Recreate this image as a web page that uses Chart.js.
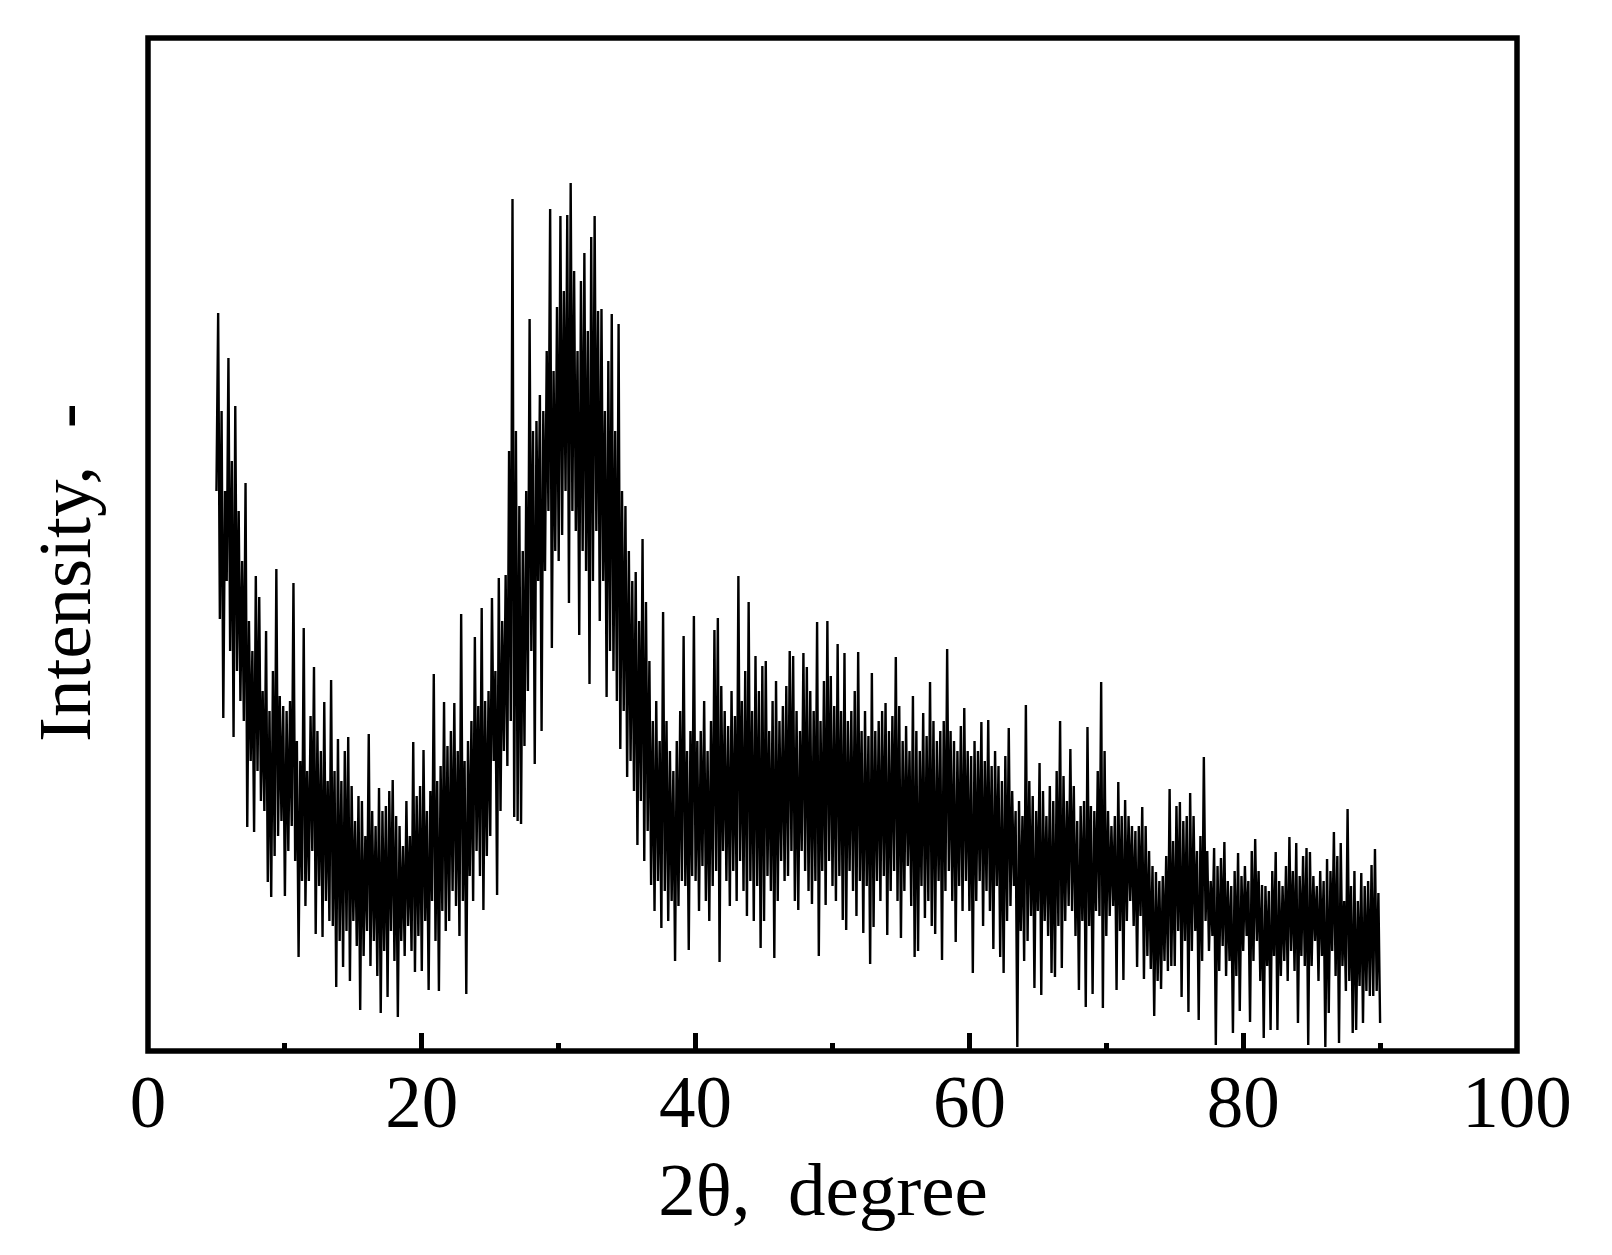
<!DOCTYPE html>
<html>
<head>
<meta charset="utf-8">
<style>
  html, body { margin: 0; padding: 0; background: #fff; }
  canvas { display: block; }
</style>
<script src="https://cdn.jsdelivr.net/npm/chart.js@4/dist/chart.umd.min.js"></script>
</head>
<body>
<canvas id="xrd-chart" width="1612" height="1255"></canvas>
<script>
// one array per 5 degrees, 0.125 degree apart
const xStep = 0.125;
const deg05 = [560,738,432,640,333,560,470,693,400,590,314,645,380,540,350,490,330,568,224,430,290,400,219,475,280,454,250,360,240,420,169,340,154,380,195,482,215,355,230,345];
const deg10 = [155,340,200,350,225,468,190,310,94,290,170,423,145,280,170,335,200,384,117,320,165,300,114,349,150,270,130,371,125,280,64,312,110,270,84,300,120,314,70,265];
const deg15 = [130,230,105,255,41,250,95,215,120,317,85,240,110,225,75,263,38,240,100,245,54,260,120,271,90,235,34,225,110,205,95,250,125,215,100,309,79,255,115,265];
const deg20 = [80,301,130,240,61,260,150,377,110,270,60,285,140,349,120,305,130,320,160,348,145,300,115,437,150,290,57,310,175,330,150,414,200,345,175,443,141,350,195,360];
const deg25 = [215,453,290,380,156,473,240,430,300,476,285,600,330,852,234,620,230,545,227,500,305,560,360,732,400,620,287,630,470,656,320,640,480,700,540,842,403,680,500,744];
const deg30 = [490,835,516,760,560,836,448,868,540,780,520,700,416,770,500,798,480,720,367,814,470,835,520,740,430,742,470,640,354,690,400,737,380,620,350,727,302,560,340,545];
const deg35 = [274,500,290,470,260,479,206,430,250,512,190,449,220,390,166,330,140,350,170,310,123,439,160,330,130,300,150,280,90,310,145,340,170,415,165,300,101,320,175,435];
const deg40 = [170,310,140,320,185,350,150,300,130,330,165,421,180,433,89,365,200,340,170,325,145,360,180,335,150,475,190,350,160,380,135,449,170,340,130,395,165,360,103,385];
const deg45 = [130,390,175,320,160,350,93,370,150,330,190,345,170,365,175,400,200,395,150,340,141,320,200,398,180,384,160,360,147,340,170,429,95,330,180,370,146,430,190,375];
const deg50 = [165,345,150,407,175,340,131,398,121,330,180,340,160,360,135,399,170,320,118,340,165,315,87,378,124,320,170,330,150,340,175,348,116,320,160,335,180,394,150,345];
const deg55 = [113,310,160,325,185,300,145,355,94,320,100,300,165,338,133,315,150,369,125,330,117,310,170,320,91,330,160,402,180,320,150,310,109,300,165,325,140,343,170,300];
const deg60 = [140,295,78,310,150,300,170,329,125,290,160,331,140,285,102,300,165,285,94,270,78,295,130,323,145,260,165,240,4,250,120,235,90,346,110,270,135,255,63,240];
const deg65 = [140,288,56,260,130,235,115,265,78,250,74,280,125,330,83,275,130,250,145,302,140,265,115,230,61,245,130,250,44,324,125,245,57,240,140,280,135,369,43,300];
const deg70 = [115,240,135,225,145,235,61,269,120,235,71,251,130,235,150,225,125,220,84,225,135,244,72,225,95,200,82,185,35,179,70,170,62,175,90,195,80,262,85,210];
const deg75 = [85,245,120,249,54,230,110,235,39,258,100,235,120,200,31,215,90,294,130,200,100,170,115,203,6,185,80,193,105,209,75,170,90,165,18,180,75,198,40,175];
const deg80 = [100,185,115,170,29,200,90,212,110,180,70,166,13,165,85,160,21,180,95,199,21,170,75,165,90,185,70,214,100,180,80,208,28,175,95,195,85,203,6,199];
const deg85 = [85,175,110,165,70,180,95,170,4,192,38,180,100,219,75,195,8,208,85,150,60,242,70,165,18,180,21,150,65,178,28,165,60,170,55,186,55,202,60,158,28];

const segmentStarts = [5, 10, 15, 20, 25, 30, 35, 40, 45, 50, 55, 60, 65, 70, 75, 80, 85];
const segments = [deg05, deg10, deg15, deg20, deg25, deg30, deg35, deg40, deg45, deg50, deg55, deg60, deg65, deg70, deg75, deg80, deg85];

const points = [];
segments.forEach((seg, s) => {
  seg.forEach((v, i) => points.push({ x: segmentStarts[s] + i * xStep, y: v }));
});

const serif = "'Liberation Serif', 'Times New Roman', serif";
const xTitle = "2θ,\u00a0\u00a0degree\u00a0";
const yTitle = "Intensity,\u00a0\u00a0-\u00a0\u00a0\u00a0";

// no tick marks on the frame's own corners
const tickColor = (c) => (c.tick.value === 0 || c.tick.value === 100 ? "transparent" : "#000");

// heavy closed frame round the plot
const framePlugin = {
  id: "frame",
  afterDraw(chart) {
    const { ctx, chartArea: a } = chart;
    ctx.save();
    ctx.strokeStyle = "#000";
    ctx.lineWidth = 5.5;
    ctx.strokeRect(a.left, a.top, a.right - a.left, a.bottom - a.top);
    ctx.restore();
  },
};

new Chart(document.getElementById("xrd-chart").getContext("2d"), {
  type: "line",
  data: {
    datasets: [
      {
        data: points,
        borderColor: "#000",
        borderWidth: 2.4,
        borderJoinStyle: "bevel",
        pointRadius: 0,
        tension: 0,
        fill: false,
      },
    ],
  },
  options: {
    responsive: false,
    animation: false,
    layout: { padding: { top: 38, right: 95, bottom: 0, left: 0 } },
    plugins: { legend: { display: false }, tooltip: { enabled: false } },
    scales: {
      xMinor: {
        type: "linear",
        axis: "x",
        position: "bottom",
        weight: -1,
        min: 0,
        max: 100,
        afterFit: (s) => { s.height = 0; },
        border: { display: false },
        grid: { drawOnChartArea: false, tickLength: -8, tickWidth: 5, tickColor },
        ticks: { display: false, stepSize: 10 },
      },
      x: {
        type: "linear",
        position: "bottom",
        min: 0,
        max: 100,
        afterFit: (s) => { s.height = 204; },
        border: { display: false },
        grid: { drawOnChartArea: false, tickLength: -18, tickWidth: 5, tickColor },
        ticks: {
          stepSize: 20,
          maxRotation: 0,
          padding: 31,
          color: "#000",
          font: { family: serif, size: 73 },
        },
        title: {
          display: true,
          text: xTitle,
          color: "#000",
          font: { family: serif, size: 75 },
          padding: { top: 0, bottom: 15 },
        },
      },
      y: {
        min: 0,
        max: 1013,
        afterFit: (s) => { s.width = 148; },
        border: { display: false },
        grid: { display: false },
        ticks: { display: false },
        title: {
          display: true,
          text: yTitle,
          color: "#000",
          font: { family: serif, size: 75 },
          padding: { top: 25, bottom: 0 },
        },
      },
    },
  },
  plugins: [framePlugin],
});
</script>
</body>
</html>
